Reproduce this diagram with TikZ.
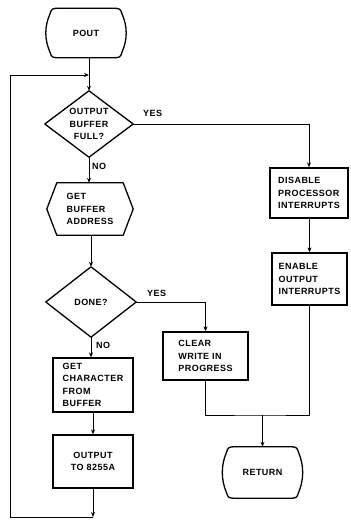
\documentclass[tikz,border=0pt]{standalone}
\usepackage{fontspec}
\setmainfont{Liberation Sans}[LetterSpace=5]
\usetikzlibrary{arrows.meta,calc}
\tikzset{
  lbl/.style={font={\bfseries\fontsize{9}{12.5}\selectfont}, inner sep=0pt},
  boxshape/.style={draw, line width=1.3pt, inner sep=2pt, font={\bfseries\fontsize{9}{12.5}\selectfont}, align=left},
  outline/.style={draw, line width=1.3pt, line join=round},
  blank/.style={inner sep=0pt},
  conn/.style={line width=0.8pt},
  arr/.style={conn, -{Stealth[length=5pt,width=4pt]}}
}
\begin{document}
\begin{tikzpicture}[x=1pt,y=-1pt]
\useasboundingbox (0,0) rectangle (351,520);

% terminals
\node[blank, minimum width=80pt, minimum height=49pt] (pout) at (86,33) {};
\node[blank, minimum width=80pt, minimum height=51pt] (ret) at (262.5,472.5) {};
\foreach \n in {pout,ret}{
  \path[outline] ([xshift=14pt]\n.north west) -- ([xshift=-14pt]\n.north east)
    .. controls ([xshift=-6pt]\n.north east) .. ([xshift=-4pt,yshift=-6pt]\n.north east)
    .. controls ([xshift=-1.5pt,yshift=-12pt]\n.north east) and ([yshift=7pt]\n.east) .. (\n.east)
    .. controls ([yshift=-7pt]\n.east) and ([xshift=-1.5pt,yshift=12pt]\n.south east) .. ([xshift=-4pt,yshift=6pt]\n.south east)
    .. controls ([xshift=-6pt]\n.south east) .. ([xshift=-14pt]\n.south east)
    -- ([xshift=14pt]\n.south west)
    .. controls ([xshift=6pt]\n.south west) .. ([xshift=4pt,yshift=6pt]\n.south west)
    .. controls ([xshift=1.5pt,yshift=12pt]\n.south west) and ([yshift=-7pt]\n.west) .. (\n.west)
    .. controls ([yshift=7pt]\n.west) and ([xshift=1.5pt,yshift=-12pt]\n.north west) .. ([xshift=4pt,yshift=-6pt]\n.north west)
    .. controls ([xshift=6pt]\n.north west) .. ([xshift=14pt]\n.north west) -- cycle;
}
\node[lbl] at (pout) {POUT};
\node[lbl] at (ret) {RETURN};

% diamonds
\node[blank, minimum width=88pt, minimum height=66pt] (d1) at (89,124) {};
\node[blank, minimum width=90pt, minimum height=70pt] (d2) at (91,302) {};
\foreach \n in {d1,d2}{
  \path[outline] (\n.north) -- (\n.east) -- (\n.south) -- (\n.west) -- cycle;
}
\node[lbl, align=center] at (d1) {OUTPUT\\BUFFER\\FULL?};
\node[lbl] at (d2) {DONE?};

% hexagon
\node[blank, minimum width=86pt, minimum height=52pt] (hex) at (90,209) {};
\path[outline] (hex.west) -- ([xshift=10pt]hex.north west) -- ([xshift=-10pt]hex.north east)
  -- (hex.east) -- ([xshift=-10pt]hex.south east) -- ([xshift=10pt]hex.south west) -- cycle;
\node[lbl, align=left] at (hex) {GET\\BUFFER\\ADDRESS};

% boxes
\node[boxshape, minimum width=80pt, minimum height=54pt] (gc) at (93,385) {GET\\CHARACTER\\FROM\\BUFFER};
\node[boxshape, minimum width=80pt, minimum height=53pt, align=center] (ot) at (93,461.5) {OUTPUT\\TO 8255A};
\node[boxshape, minimum width=78pt, minimum height=50pt] (dis) at (309,193) {DISABLE\\PROCESSOR\\INTERRUPTS};
\node[boxshape, minimum width=75pt, minimum height=52pt] (ena) at (309.5,279) {ENABLE\\OUTPUT\\INTERRUPTS};
\node[boxshape, minimum width=85pt, minimum height=48pt] (clr) at (205.5,356) {CLEAR\\WRITE IN\\PROGRESS};

% connectors
\draw[arr] (d1.north |- pout.south) -- (d1.north);
\draw[arr] (d1.south) -- (d1.south |- hex.north);
\draw[arr] (d2.north |- hex.south) -- (d2.north);
\draw[arr] (d2.south) -- (d2.south |- gc.north);
\draw[arr] (gc.south) -- (ot.north);
\draw[arr] (d1.east) -| (dis.north);
\draw[arr] (ena.north |- dis.south) -- (ena.north);
\draw[arr] (d2.east) -| (clr.north);

% loop back
\coordinate (lb) at (ot.south |- 0,517);
\coordinate (ll) at (10,517);
\coordinate (lt) at (10,75);
\coordinate (lj) at (d1.north |- lt);
\draw[arr] (ot.south) -- (lb);
\draw[arr] (lb) -- (ll) -- (lt) -- (lj);

% join to return
\coordinate (j) at (ret.north |- 0,415);
\draw[conn] (clr.south) |- (j) -| (ena.south);
\draw[arr] (j) -- (ret.north);

% labels
\node[lbl, anchor=west] at (143,113) {YES};
\node[lbl, anchor=west] at (92,166) {NO};
\node[lbl, anchor=west] at (147,293) {YES};
\node[lbl, anchor=west] at (96,345) {NO};
\end{tikzpicture}
\end{document}
